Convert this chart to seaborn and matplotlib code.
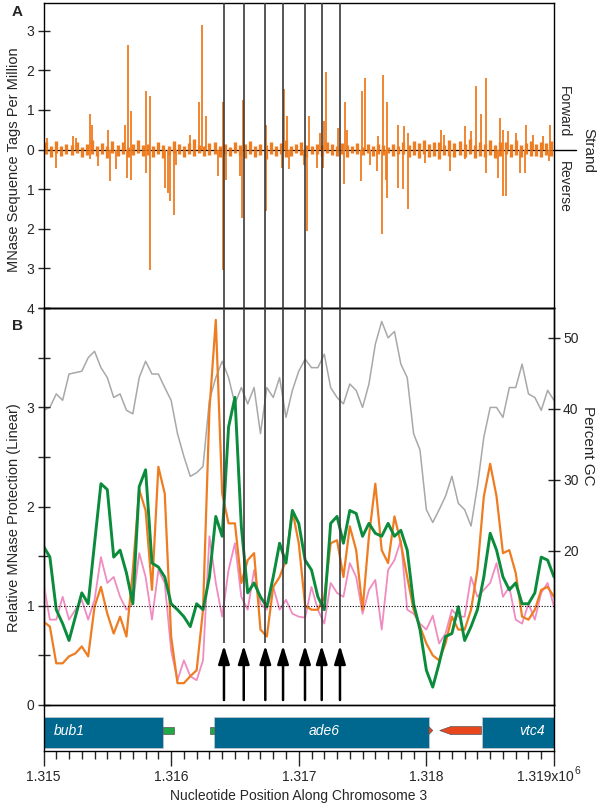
import matplotlib
matplotlib.use("Agg")
import matplotlib.pyplot as plt
import matplotlib.transforms as mtransforms
from matplotlib.patches import Rectangle, Polygon
from matplotlib.ticker import FixedLocator, FixedFormatter, MultipleLocator
import pandas as pd
import seaborn as sns

sns.set_theme(style="white")
plt.rcParams['font.family'] = ['Liberation Sans', 'DejaVu Sans']

# ---------------- panel A : MNase tags per strand ----------------
fwd_pos = [1315027, 1315231, 1315257, 1315367, 1315382, 1315505, 1315641, 1315664,
           1315688, 1315805, 1315831, 1316144, 1316217, 1316244, 1316275, 1316405,
           1316562, 1316745, 1316888, 1316907, 1317078, 1317164, 1317198, 1317211,
           1317307, 1317359, 1317380, 1317495, 1317521, 1317620, 1317660, 1317693,
           1317777, 1317824, 1317855, 1318116, 1318142, 1318299, 1318351, 1318390,
           1318430, 1318471, 1318573, 1318599, 1318638, 1318704, 1318777, 1318834,
           1318912, 1318965]
fwd_val = [0.30, 0.34, 0.30, 0.91, 0.63, 0.50, 0.63, 2.65,
           0.98, 1.47, 1.34, 0.38, 1.19, 3.15, 0.84, 1.19,
           1.26, 0.63, 1.53, 0.84, 0.84, 0.42, 0.71, 1.95,
           0.55, 1.19, 0.50, 1.47, 1.81, 0.34, 1.88, 1.19,
           0.63, 0.59, 0.42, 0.50, 0.38, 0.59, 0.46, 1.61,
           0.91, 1.81, 0.80, 0.50, 0.46, 0.42, 0.63, 0.38,
           0.34, 0.63]
rev_pos = [1315095, 1315361, 1315427, 1315518, 1315565, 1315654, 1315682, 1315800,
           1315831, 1315954, 1315975, 1315993, 1316019, 1316040, 1316366, 1316405,
           1316432, 1316536, 1316554, 1316740, 1316870, 1316922, 1317038, 1317067,
           1317143, 1317190, 1317354, 1317490, 1317555, 1317613, 1317654, 1317686,
           1317693, 1317777, 1317816, 1317855, 1317986, 1318189, 1318304, 1318469,
           1318560, 1318597, 1318625, 1318730, 1318769, 1318957]
rev_val = [0.46, 0.25, 0.42, 0.80, 0.50, 0.71, 0.76, 0.59,
           3.03, 0.97, 1.09, 1.30, 1.64, 0.38, 0.67, 3.03,
           0.76, 0.67, 1.72, 1.55, 0.46, 0.50, 0.38, 2.06,
           0.46, 0.46, 0.88, 0.80, 0.38, 0.55, 2.14, 0.76,
           1.22, 0.97, 1.00, 1.51, 0.34, 0.55, 0.25, 0.59,
           0.71, 1.18, 1.18, 0.59, 0.59, 0.29]

# low background tags, one every 40 nt
bg_pos = list(range(1315020, 1319000, 40))
fwd_bg = [0.18, 0.10, 0.22, 0.08, 0.15, 0.12, 0.20, 0.06, 0.14, 0.25,
          0.10, 0.16, 0.09, 0.21, 0.12, 0.18, 0.07, 0.13, 0.24, 0.11,
          0.15, 0.08, 0.19, 0.12, 0.10, 0.22, 0.14, 0.09, 0.17, 0.26,
          0.12, 0.08, 0.16, 0.20, 0.10, 0.13, 0.07, 0.18, 0.11, 0.15,
          0.21, 0.09, 0.14, 0.12, 0.19, 0.08, 0.16, 0.23, 0.10, 0.13,
          0.18, 0.12, 0.09, 0.15, 0.11, 0.20, 0.14, 0.08, 0.17, 0.12,
          0.10, 0.16, 0.06, 0.13, 0.09, 0.15, 0.11, 0.07, 0.14, 0.10,
          0.19, 0.12, 0.22, 0.16, 0.25, 0.14, 0.20, 0.18, 0.12, 0.23,
          0.16, 0.21, 0.13, 0.26, 0.11, 0.19, 0.15, 0.24, 0.12, 0.18,
          0.20, 0.14, 0.25, 0.11, 0.17, 0.22, 0.13, 0.19, 0.16, 0.21]
rev_bg = [0.12, 0.20, 0.09, 0.16, 0.11, 0.14, 0.08, 0.19, 0.13, 0.10,
          0.17, 0.12, 0.22, 0.09, 0.15, 0.11, 0.20, 0.14, 0.08, 0.16,
          0.13, 0.18, 0.10, 0.21, 0.14, 0.09, 0.12, 0.19, 0.11, 0.15,
          0.08, 0.17, 0.13, 0.10, 0.20, 0.12, 0.16, 0.09, 0.14, 0.22,
          0.11, 0.18, 0.13, 0.24, 0.10, 0.15, 0.12, 0.19, 0.16, 0.09,
          0.14, 0.20, 0.12, 0.10, 0.17, 0.08, 0.13, 0.15, 0.11, 0.18,
          0.09, 0.12, 0.14, 0.08, 0.16, 0.10, 0.13, 0.09, 0.15, 0.12,
          0.11, 0.18, 0.14, 0.21, 0.12, 0.19, 0.16, 0.23, 0.13, 0.17,
          0.20, 0.14, 0.18, 0.12, 0.22, 0.16, 0.19, 0.13, 0.21, 0.15,
          0.12, 0.18, 0.14, 0.20, 0.11, 0.17, 0.15, 0.19, 0.13, 0.16]

# ---------------- panel B : relative protection + GC ----------------
pos_b = list(range(1315000, 1319001, 50))
green_b = [1.60, 1.49, 0.96, 0.82, 0.65, 0.89, 1.13, 1.02, 1.63, 2.23, 2.17,
           1.49, 1.56, 1.33, 1.02, 2.20, 2.37, 1.43, 1.39, 1.29, 1.02, 0.96,
           0.89, 0.79, 1.02, 0.96, 1.29, 1.90, 1.70, 2.80, 3.10, 1.80, 1.13,
           1.23, 1.09, 0.99, 1.29, 1.63, 1.43, 1.96, 1.83, 1.46,
           1.36, 1.09, 0.96, 1.83, 1.90, 1.63, 1.96, 1.93, 1.70, 1.83, 1.73,
           1.70, 1.83, 1.70, 1.76, 1.56, 1.02, 0.76, 0.35, 0.18,
           0.42, 0.69, 0.72, 0.99, 0.65, 0.79, 0.96, 1.29, 1.73, 1.56, 1.29,
           1.16, 1.23, 1.02, 1.02, 1.13, 1.49, 1.46, 1.29]
orange_b = [0.84, 0.79, 0.42, 0.42, 0.49, 0.52, 0.59, 0.49, 0.99, 1.19, 0.92,
            0.72, 0.89, 0.69, 1.36, 2.17, 1.96, 1.16, 2.40, 2.13, 0.69, 0.22,
            0.22, 0.29, 0.35, 0.96, 2.97, 3.88, 2.13, 1.83, 1.83, 1.23, 1.46,
            1.53, 0.76, 0.69, 1.19, 1.29, 1.46, 1.96, 1.63, 1.00,
            0.96, 0.96, 1.09, 1.63, 1.66, 1.29, 1.80, 1.56, 0.96, 1.70, 2.23,
            1.56, 1.43, 1.90, 1.63, 1.29, 0.96, 0.79, 0.62, 0.50,
            0.45, 0.62, 0.89, 0.76, 0.76, 0.96, 1.36, 2.10, 2.43, 2.10, 1.53,
            1.56, 1.33, 0.89, 0.86, 0.96, 1.16, 1.19, 1.09]
pink_b = [1.23, 0.86, 0.86, 1.09, 0.86, 0.96, 1.06, 0.86, 1.06, 1.49, 1.23,
          1.29, 1.09, 0.96, 1.02, 1.53, 1.29, 0.86, 1.36, 1.23, 0.55, 0.25,
          0.45, 0.29, 0.25, 0.45, 1.70, 1.23, 0.89, 1.36, 1.63, 1.09, 0.96,
          1.36, 1.02, 0.96, 1.19, 0.96, 1.06, 0.92, 0.89, 0.88,
          1.19, 0.96, 0.82, 1.23, 1.13, 1.09, 1.43, 1.29, 0.92, 1.16, 1.26,
          0.76, 1.36, 1.46, 1.66, 0.96, 0.92, 0.82, 0.76, 0.90,
          0.62, 0.72, 0.96, 0.89, 0.89, 1.29, 1.09, 1.16, 1.23, 1.43, 1.09,
          1.19, 0.86, 0.82, 1.02, 0.86, 1.13, 1.23, 0.99]
gc_b = [39.8, 40.2, 42.1, 41.2, 44.9, 45.1, 45.3, 47.2, 48.1, 45.8, 44.4,
        41.6, 42.1, 39.8, 39.3, 44.4, 46.7, 44.9, 44.9, 43.0, 41.2, 36.5,
        33.3, 30.5, 31.0, 31.9, 41.2, 44.4, 46.7, 44.4, 40.7, 43.0, 40.7,
        43.0, 36.5, 43.0, 41.6, 44.4, 38.8, 42.6, 45.3, 47.0,
        45.8, 45.8, 47.7, 43.0, 41.6, 40.7, 43.5, 42.6, 40.2, 43.5, 49.1,
        52.3, 50.0, 50.9, 46.3, 44.4, 36.5, 34.2, 25.8, 24.0,
        25.8, 27.7, 30.5, 26.7, 25.8, 23.5, 29.1, 36.0, 40.2, 40.2, 38.8,
        43.0, 43.0, 46.3, 42.1, 41.6, 39.8, 42.6, 41.2]

arrow_pos = [1316414, 1316569, 1316738, 1316877, 1317049, 1317180, 1317323]

# ---------------- gene track ----------------
gene_names = ['bub1', 'ade6', 'vtc4']
gene_start = [1315000, 1316336, 1318432]
gene_end = [1315934, 1318020, 1319000]
small_start = [1315934, 1316305]
small_end = [1316022, 1316336]

ORANGE = '#EE7D22'
GREEN = '#0B8C3C'
PINK = '#F08CC0'
GRAY = '#A8A8A8'
BLUE = '#00678F'
XMIN, XMAX = 1315000, 1319000

fig = plt.figure(figsize=(6, 8.08), dpi=100)
L = 43.5 / 600
W = (554 - 43.5) / 600
axA = fig.add_axes([L, 1 - 308 / 808, W, 305 / 808])
axB = fig.add_axes([L, 1 - 705 / 808, W, 397 / 808])
axG = fig.add_axes([L, 1 - 751 / 808, W, 46 / 808])

for ax in (axA, axB, axG):
    ax.set_xlim(XMIN, XMAX)
    for s in ax.spines.values():
        s.set_color('black')
        s.set_linewidth(1.0)

# panel A
axA.vlines(bg_pos, 0, fwd_bg, color=ORANGE, lw=2.4)
axA.vlines(bg_pos, 0, [-v for v in rev_bg], color=ORANGE, lw=2.4)
axA.vlines(fwd_pos, 0, fwd_val, color=ORANGE, lw=1.3)
axA.vlines(rev_pos, 0, [-v for v in rev_val], color=ORANGE, lw=1.3)
axA.axhline(0, color='black', lw=0.9, zorder=1)
axA.vlines(arrow_pos, -4, 3.7, color='#3a3a3a', lw=1.2, zorder=3)
axA.set_ylim(-4, 3.7)
axA.yaxis.set_major_locator(FixedLocator([-4, -3, -2, -1, 0, 1, 2, 3]))
axA.yaxis.set_major_formatter(FixedFormatter(['4', '3', '2', '1', '0', '1', '2', '3']))
axA.set_xticks([])
axA.tick_params(axis='y', left=True, direction='inout', length=9, width=1,
                labelsize=10, pad=2)

# panel B
axGC = axB.twinx()
axGC.set_xlim(XMIN, XMAX)
sns.lineplot(x=pos_b, y=gc_b, ax=axGC, color=GRAY, lw=1.1)
axGC.set_ylim(-1.7, 54.2)
axGC.set_yticks([20, 30, 40, 50])
axGC.tick_params(axis='y', right=True, direction='inout', length=9, width=1,
                 labelsize=10, pad=2)
axGC.set_ylabel('')
for s in axGC.spines.values():
    s.set_color('black')
    s.set_linewidth(1.0)
axB.set_zorder(axGC.get_zorder() + 1)
axB.patch.set_visible(False)

df_b = pd.DataFrame({'pos': pos_b, 'green': green_b, 'orange': orange_b, 'pink': pink_b})
sns.lineplot(data=df_b, x='pos', y='pink', ax=axB, color=PINK, lw=1.3)
sns.lineplot(data=df_b, x='pos', y='orange', ax=axB, color=ORANGE, lw=1.6)
sns.lineplot(data=df_b, x='pos', y='green', ax=axB, color=GREEN, lw=2.1)
axB.axhline(1, color='black', ls=(0, (1, 1.5)), lw=0.8)
axB.vlines(arrow_pos, 0.62, 4, color='#3a3a3a', lw=1.2, zorder=3)
for xp in arrow_pos:
    axB.annotate('', xy=(xp, 0.6), xytext=(xp, 0.05),
                 arrowprops=dict(arrowstyle='-|>,head_length=0.55,head_width=0.17',
                                 color='black', lw=1.8, mutation_scale=20,
                                 shrinkA=0, shrinkB=0))
axB.set_ylim(0, 4)
axB.yaxis.set_major_locator(FixedLocator([0, 0.5, 1, 1.5, 2, 2.5, 3, 3.5, 4]))
axB.yaxis.set_major_formatter(FixedFormatter(['0', '', '1', '', '2', '', '3', '', '']))
axB.set_xticks([])
axB.set_xlabel('')
axB.set_ylabel('')
axB.tick_params(axis='y', left=True, direction='inout', length=9, width=1,
                labelsize=10, pad=2)

# gene track
axG.set_ylim(0, 1)
axG.spines['top'].set_visible(False)
axG.set_yticks([])
for n, s0, s1 in zip(gene_names, gene_start, gene_end):
    axG.add_patch(Rectangle((s0, 0.065), s1 - s0, 0.675, fc=BLUE, ec='#c8c8c8', lw=0.5))
for s0, s1 in zip(small_start, small_end):
    axG.add_patch(Rectangle((s0, 0.36), s1 - s0, 0.17, fc='#22A845', ec='#555555', lw=0.5))
axG.add_patch(Polygon([(1318020, 0.36), (1318050, 0.445), (1318020, 0.53)],
                      closed=True, fc='#E8471E', ec='#555555', lw=0.5))
axG.add_patch(Polygon([(1318432, 0.36), (1318190, 0.36), (1318105, 0.445),
                       (1318190, 0.53), (1318432, 0.53)],
                      closed=True, fc='#E8471E', ec='#555555', lw=0.5))
axG.text(1315080, 0.43, 'bub1', color='white', style='italic', fontsize=10,
         ha='left', va='center')
axG.text(1317200, 0.43, 'ade6', color='white', style='italic', fontsize=10,
         ha='center', va='center')
axG.text(1318925, 0.43, 'vtc4', color='white', style='italic', fontsize=10,
         ha='right', va='center')
axG.set_xticks([1315000, 1316000, 1317000, 1318000, 1319000])
axG.set_xticklabels(['1.315', '1.316', '1.317', '1.318', ''])
axG.xaxis.set_minor_locator(MultipleLocator(100))
axG.tick_params(axis='x', which='major', bottom=True, direction='out', length=11,
                width=1, labelsize=10, pad=3)
axG.tick_params(axis='x', which='minor', bottom=True, direction='out', length=6,
                width=1)
axG.set_xlabel('Nucleotide Position Along Chromosome 3', fontsize=10, labelpad=3)
# last label with its exponent
axG.annotate('1.319x10', xy=(XMAX, 0), xycoords=('data', 'axes fraction'),
             xytext=(-6, -14), textcoords='offset points', ha='center', va='top',
             fontsize=10, annotation_clip=False)
axG.annotate('6', xy=(XMAX, 0), xycoords=('data', 'axes fraction'),
             xytext=(15, -10.5), textcoords='offset points', ha='left', va='top',
             fontsize=7.5, annotation_clip=False)

# strand marker on panel A
trans = mtransforms.blended_transform_factory(axA.transAxes, axA.transData)
axA.plot([1.0, 1.043], [0, 0], color='black', lw=1.0, transform=trans, clip_on=False)

# outer labels
fig.text(12 / 600, 1 - 12 / 808, 'A', fontsize=11, fontweight='bold', ha='left', va='center')
fig.text(12 / 600, 1 - 326 / 808, 'B', fontsize=11, fontweight='bold', ha='left', va='center')
fig.text(14 / 600, 1 - 160 / 808, 'MNase Sequence Tags Per Million', rotation=90,
         fontsize=10.5, ha='center', va='center')
fig.text(14 / 600, 1 - 518 / 808, 'Relative MNase Protection (Linear)', rotation=90,
         fontsize=10.5, ha='center', va='center')
fig.text(564 / 600, 1 - 112 / 808, 'Forward', rotation=270, fontsize=10,
         ha='center', va='center')
fig.text(564 / 600, 1 - 187 / 808, 'Reverse', rotation=270, fontsize=10,
         ha='center', va='center')
fig.text(588 / 600, 1 - 150 / 808, 'Strand', rotation=270, fontsize=11,
         ha='center', va='center')
fig.text(588 / 600, 1 - 446 / 808, 'Percent GC', rotation=270, fontsize=11,
         ha='center', va='center')

fig.savefig('out.png', dpi=100)
